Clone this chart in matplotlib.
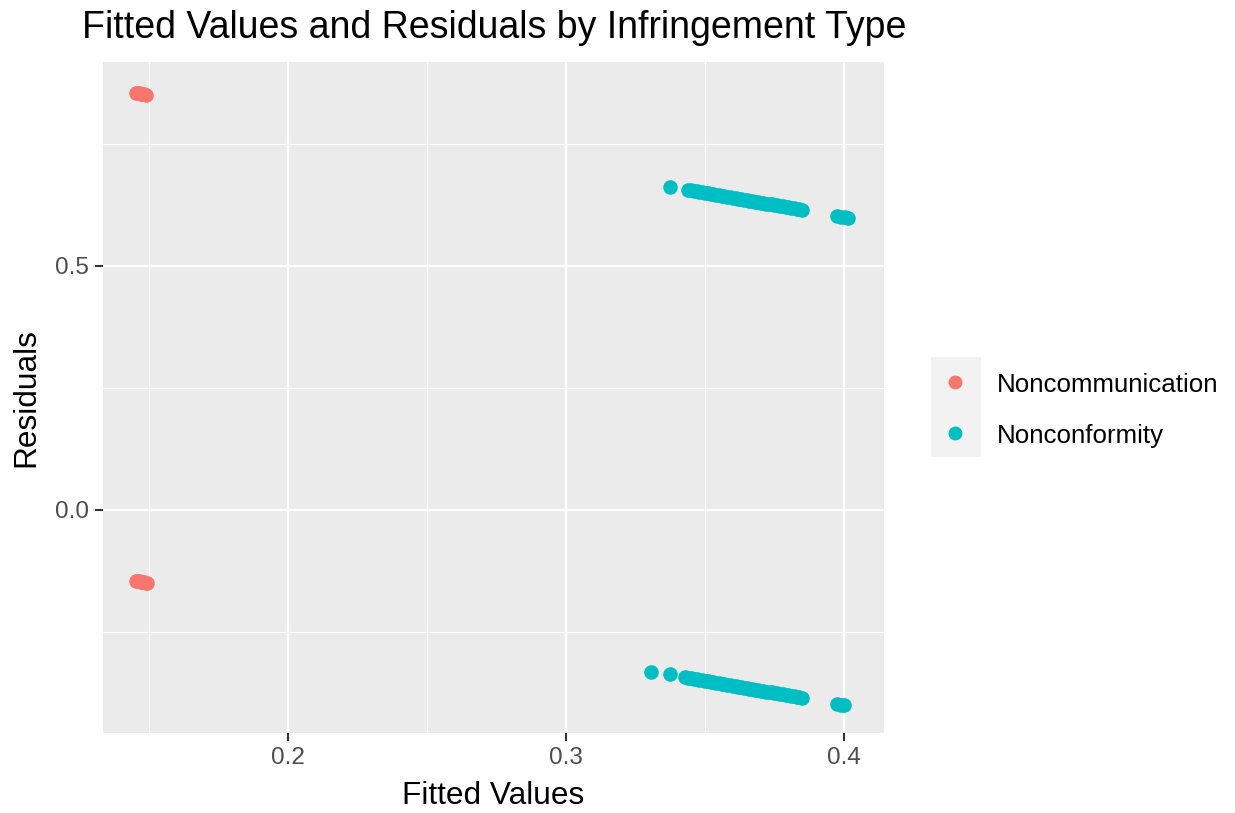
import matplotlib
matplotlib.use("Agg")
import matplotlib.pyplot as plt
from matplotlib.lines import Line2D
from matplotlib.patches import Rectangle

plt.rcParams['font.family'] = ['Liberation Sans', 'DejaVu Sans']

groups = ['Noncommunication', 'Nonconformity']
colors = ['#F8766D', '#00BFC4']

# Noncommunication: fitted values and residuals (two bands, y = 1 and y = 0)
nc_fitted = [0.1452, 0.1458, 0.1464, 0.1470, 0.1476, 0.1482, 0.1488,
             0.1452, 0.1458, 0.1464, 0.1470, 0.1476, 0.1482, 0.1488, 0.1493]
nc_resid = [0.8548, 0.8542, 0.8536, 0.8530, 0.8524, 0.8518, 0.8512,
            -0.1452, -0.1458, -0.1464, -0.1470, -0.1476, -0.1482, -0.1488, -0.1493]

# Nonconformity
nf_fitted = [0.3374, 0.344, 0.345, 0.346, 0.347, 0.348, 0.349, 0.350, 0.351,
             0.352, 0.353, 0.354, 0.355, 0.356, 0.357, 0.358, 0.359, 0.360,
             0.361, 0.362, 0.363, 0.364, 0.365, 0.366, 0.367, 0.368, 0.369,
             0.370, 0.371, 0.372, 0.373, 0.374, 0.375, 0.376, 0.377, 0.378,
             0.379, 0.380, 0.381, 0.382, 0.383, 0.384, 0.385,
             0.3975, 0.399, 0.4005, 0.4015,
             0.3306, 0.3374, 0.343, 0.344, 0.345, 0.346, 0.347, 0.348, 0.349,
             0.350, 0.351, 0.352, 0.353, 0.354, 0.355, 0.356, 0.357, 0.358,
             0.359, 0.360, 0.361, 0.362, 0.363, 0.364, 0.365, 0.366, 0.367,
             0.368, 0.369, 0.370, 0.371, 0.372, 0.373, 0.374, 0.375, 0.376,
             0.377, 0.378, 0.379, 0.380, 0.381, 0.382, 0.383, 0.384, 0.385,
             0.3975, 0.3990, 0.4000]
nf_resid = [0.662, 0.656, 0.655, 0.654, 0.653, 0.652, 0.651, 0.650, 0.649,
            0.648, 0.647, 0.646, 0.645, 0.644, 0.643, 0.642, 0.641, 0.640,
            0.639, 0.638, 0.637, 0.636, 0.635, 0.634, 0.633, 0.632, 0.631,
            0.630, 0.629, 0.628, 0.627, 0.626, 0.625, 0.624, 0.623, 0.622,
            0.621, 0.620, 0.619, 0.618, 0.617, 0.616, 0.615,
            0.6025, 0.601, 0.5995, 0.5985,
            -0.331, -0.337, -0.343, -0.344, -0.345, -0.346, -0.347, -0.348, -0.349,
            -0.350, -0.351, -0.352, -0.353, -0.354, -0.355, -0.356, -0.357, -0.358,
            -0.359, -0.360, -0.361, -0.362, -0.363, -0.364, -0.365, -0.366, -0.367,
            -0.368, -0.369, -0.370, -0.371, -0.372, -0.373, -0.374, -0.375, -0.376,
            -0.377, -0.378, -0.379, -0.380, -0.381, -0.382, -0.383, -0.384, -0.385,
            -0.3975, -0.3990, -0.4000]

x_ticks = [0.2, 0.3, 0.4]
x_labels = ['0.2', '0.3', '0.4']
y_ticks = [0.0, 0.5]
y_labels = ['0.0', '0.5']

W, H = 1235, 813
fig = plt.figure(figsize=(W / 100, H / 100), dpi=100)
ax = fig.add_axes([103 / W, 1 - 733 / H, 781 / W, 671 / H])
ax.set_facecolor('#EBEBEB')
for s in ax.spines.values():
    s.set_visible(False)

ax.set_xlim(0.1335, 0.4144)
ax.set_ylim(-0.457, 0.918)

# grid
for v in [0.15, 0.25, 0.35]:
    ax.axvline(v, color='white', lw=0.8, zorder=0.5)
for v in [-0.25, 0.25, 0.75]:
    ax.axhline(v, color='white', lw=0.8, zorder=0.5)
for v in x_ticks:
    ax.axvline(v, color='white', lw=1.6, zorder=0.6)
for v in y_ticks:
    ax.axhline(v, color='white', lw=1.6, zorder=0.6)

ax.scatter(nc_fitted, nc_resid, s=110, color=colors[0], linewidths=0, zorder=2)
ax.scatter(nf_fitted, nf_resid, s=110, color=colors[1], linewidths=0, zorder=2)

ax.set_xticks(x_ticks)
ax.set_xticklabels(x_labels)
ax.set_yticks(y_ticks)
ax.set_yticklabels(y_labels)
ax.tick_params(axis='both', colors='#333333', length=6, width=1.5,
               labelsize=17.5, labelcolor='#4D4D4D', pad=4)

ax.set_xlabel('Fitted Values', fontsize=22.8, color='black', labelpad=9)
ax.set_ylabel('Residuals', fontsize=22.8, color='black', labelpad=10)

fig.text(82 / W, 1 - 28 / H, 'Fitted Values and Residuals by Infringement Type',
         fontsize=27, ha='left', va='center')

# legend
fig.add_artist(Rectangle((931 / W, 1 - 457 / H), 50 / W, 100 / H,
                         transform=fig.transFigure, facecolor='#F2F2F2',
                         edgecolor='none'))
for i, (g, c) in enumerate(zip(groups, colors)):
    yk = 1 - (382 + 51 * i) / H
    fig.add_artist(Line2D([955 / W], [yk], marker='o', markersize=10,
                          color=c, markeredgewidth=0, transform=fig.transFigure))
    fig.text(997 / W, yk, g, fontsize=18.6, ha='left', va='center_baseline')

fig.savefig('out.png', dpi=100)
